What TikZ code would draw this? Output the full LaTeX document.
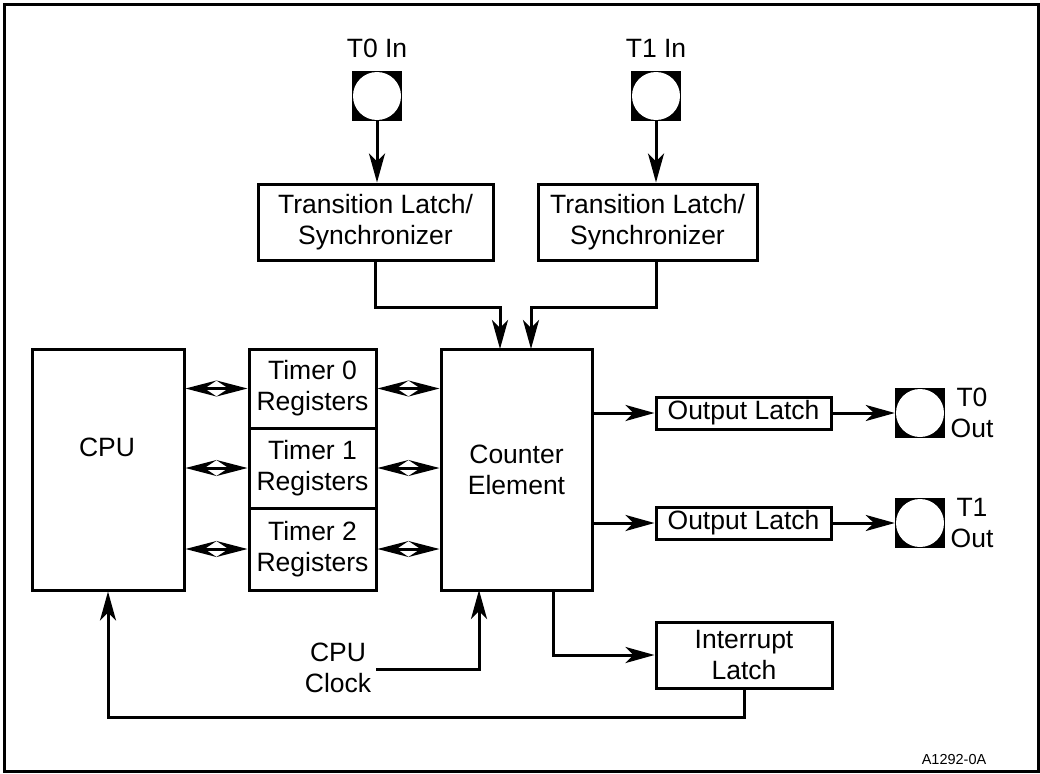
\documentclass[tikz,border=0pt]{standalone}
\usepackage{fontspec}
\setmainfont{Liberation Sans}
\usetikzlibrary{arrows.meta,calc}
\tikzset{
 box/.style={draw,line width=3pt,inner sep=0pt,align=center,font=\fontsize{26.5}{31}\selectfont},
 lbl/.style={inner sep=0pt,align=center,font=\fontsize{26.5}{31}\selectfont},
 pin/.style={draw=none,fill=black,minimum size=50pt,inner sep=0pt,
   path picture={\fill[white] (path picture bounding box.center) circle (24pt);}},
 arr/.style={line width=3pt,-{Stealth[length=29pt,width=16pt,inset=8pt]}},
 darr/.style={line width=3pt,{Stealth[length=31pt,width=16pt,inset=12pt]}-{Stealth[length=31pt,width=16pt,inset=12pt]}},
}
\begin{document}
\begin{tikzpicture}[x=1pt,y=-1pt]
\useasboundingbox (0,0) rectangle (1040,773);
\draw[line width=3pt] (4.5,4.5) rectangle (1038,771);

% input pins
\node[lbl] (t0inl) at (377,48) {T0 In};
\node[lbl] (t1inl) at (656,48) {T1 In};
\node[pin] (p0) at (377,96) {};
\node[pin] (p1) at (656,96) {};

% transition latches
\node[box,minimum width=235pt,minimum height=76pt] (tl0) at (375.5,222) {Transition Latch/\\Synchronizer};
\node[box,minimum width=219pt,minimum height=76pt] (tl1) at (647.5,222) {Transition Latch/\\Synchronizer};

% CPU
\node[box,minimum width=152pt,minimum height=241pt] (cpu) at (108,469.5) {};
\node[lbl] (cput) at (107,447) {CPU};

% timer registers
\node[box,minimum width=127pt,minimum height=79pt] (t0) at (312.5,388.5) {Timer 0\\Registers};
\node[box,minimum width=127pt,minimum height=80pt] (t1) at (312.5,468) {Timer 1\\Registers};
\node[box,minimum width=127pt,minimum height=82pt] (t2) at (312.5,549) {Timer 2\\Registers};

% counter element
\node[box,minimum width=151pt,minimum height=241pt] (ce) at (516.5,469.5) {Counter\\Element};

% output latches and pins
\node[box,minimum width=175pt,minimum height=32pt] (ol0) at (743.5,413) {Output Latch};
\node[box,minimum width=175pt,minimum height=32pt] (ol1) at (743.5,523) {Output Latch};
\node[pin] (po0) at (920,413) {};
\node[pin] (po1) at (920,523) {};
\node[lbl] (po0l) at (972,413) {T0\\Out};
\node[lbl] (po1l) at (972,523) {T1\\Out};

% interrupt latch
\node[box,minimum width=176pt,minimum height=66pt] (il) at (744,655) {Interrupt\\Latch};

% cpu clock
\node[lbl] (clk) at (338,668) {CPU\\Clock};

% figure id
\node[inner sep=0pt,font=\fontsize{14.5}{16}\selectfont] (fid) at (954,759.5) {A1292-0A};

% coordinates
\coordinate (ce1) at (500,349);
\coordinate (ce2) at (531,349);
\coordinate (ceb) at (553,590);
\coordinate (ceclk) at (479,590);
\coordinate (clkst) at (376,669);

% connectors
\draw[arr] (p0.south) -- (p0.south |- tl0.north);
\draw[arr] (p1.south) -- (p1.south |- tl1.north);
\draw[arr] (tl0.south) -- ++(0,46) -| (ce1);
\draw[arr] (tl1.south -| p1.south) -- ++(0,46) -| (ce2);

\draw[darr] (cpu.east |- t0.west) -- (t0.west);
\draw[darr] (cpu.east |- t1.west) -- (t1.west);
\draw[darr] (cpu.east |- t2.west) -- (t2.west);
\draw[darr] (t0.east) -- (ce.west |- t0.east);
\draw[darr] (t1.east) -- (ce.west |- t1.east);
\draw[darr] (t2.east) -- (ce.west |- t2.east);

\draw[arr] (ce.east |- ol0.west) -- (ol0.west);
\draw[arr] (ce.east |- ol1.west) -- (ol1.west);
\draw[arr] (ol0.east) -- (po0.west);
\draw[arr] (ol1.east) -- (po1.west);

\draw[arr] (ceb) |- (il.west);
\draw[arr] (clkst) -| (ceclk);
\draw[arr] (il.south) -- ++(0,28) -| (cpu.south);
\end{tikzpicture}
\end{document}
